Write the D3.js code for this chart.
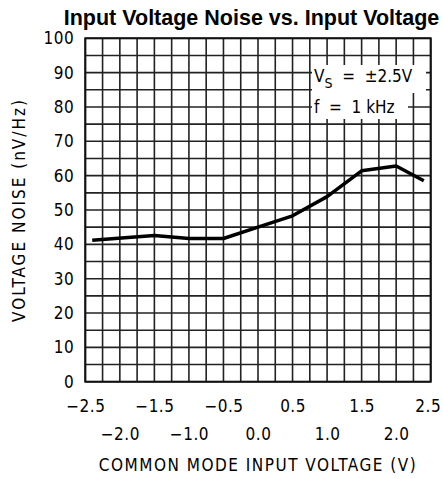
<!DOCTYPE html>
<html>
<head>
<meta charset="utf-8">
<script src="https://cdn.jsdelivr.net/npm/d3@7.9.0/dist/d3.min.js"></script>
<style>
  body { margin: 0; background: #fff; }
  text { fill: #000; }
  .lbl { font-family: 'Liberation Sans Narrow', 'DejaVu Sans Condensed', sans-serif; }
</style>
</head>
<body>
<div id="chart"></div>
<script>
const cmVoltage = [-2.4, -1.5, -1.0, -0.5, 0.0, 0.5, 1.0, 1.5, 2.0, 2.4];
const noise = [41.2, 42.6, 41.7, 41.7, 45.0, 48.3, 53.9, 61.4, 62.8, 58.5];
const xTicksTop = [-2.5, -1.5, -0.5, 0.5, 1.5, 2.5];
const xTicksBottom = [-2.0, -1.0, 0.0, 1.0, 2.0];
const yTicks = [0, 10, 20, 30, 40, 50, 60, 70, 80, 90, 100];

const width = 443;
const height = 479;
const margin = { top: 38.3, right: 12.3, bottom: 97.3, left: 85.3 };
const nb = '\u00a0';

const svg = d3.select('#chart').append('svg')
  .attr('width', width)
  .attr('height', height);

const x = d3.scaleLinear().domain([-2.5, 2.5])
  .range([margin.left, width - margin.right]);
const y = d3.scaleLinear().domain([0, 100])
  .range([height - margin.bottom, margin.top]);

// grid, every 0.25 V and 5 nV
const grid = svg.append('g').attr('stroke', '#222').attr('stroke-width', 1.6);
grid.selectAll('line.v')
  .data(d3.range(-2.5, 2.5001, 0.25))
  .join('line')
  .attr('class', 'v')
  .attr('x1', d => x(d)).attr('x2', d => x(d))
  .attr('y1', y(0)).attr('y2', y(100));
grid.selectAll('line.h')
  .data(d3.range(0, 100.001, 5))
  .join('line')
  .attr('class', 'h')
  .attr('x1', x(-2.5)).attr('x2', x(2.5))
  .attr('y1', d => y(d)).attr('y2', d => y(d));

svg.append('rect')
  .attr('x', x(-2.5)).attr('y', y(100))
  .attr('width', x(2.5) - x(-2.5)).attr('height', y(0) - y(100))
  .attr('fill', 'none').attr('stroke', '#111').attr('stroke-width', 2);

// legend boxes
svg.append('rect').attr('x', 312).attr('y', 65).attr('width', 114).attr('height', 28).attr('fill', '#fff');
svg.append('rect').attr('x', 312).attr('y', 92).attr('width', 96).attr('height', 27).attr('fill', '#fff');

const leg = svg.append('g').attr('class', 'lbl').style('font-size', '17px');
const l1 = leg.append('text').attr('x', 314).attr('y', 82);
l1.append('tspan').text('V');
l1.append('tspan').attr('dy', 6).style('font-size', '14px').text('S');
l1.append('tspan').attr('dy', -6).text(`${nb}${nb}=${nb}${nb}\u00b12.5V`);
leg.append('text').attr('x', 314).attr('y', 113).text(`f${nb}${nb}=${nb}${nb}1${nb}kHz`);

// data line
const line = d3.line().x((d, i) => x(cmVoltage[i])).y(d => y(d));
svg.append('path')
  .datum(noise)
  .attr('d', line)
  .attr('fill', 'none')
  .attr('stroke', '#000')
  .attr('stroke-width', 3.5)
  .attr('stroke-linejoin', 'round');

// y axis labels
const yAxis = svg.append('g')
  .attr('transform', `translate(${margin.left}, 0)`)
  .call(d3.axisLeft(y).tickValues(yTicks).tickSize(0).tickPadding(11).tickFormat(d3.format('d')));

// x axis labels in two rows
const xAxisTop = svg.append('g')
  .attr('transform', `translate(0, ${y(0)})`)
  .call(d3.axisBottom(x).tickValues(xTicksTop).tickSize(0).tickPadding(18).tickFormat(d3.format('.1f')));
const xAxisBottom = svg.append('g')
  .attr('transform', `translate(0, ${y(0)})`)
  .call(d3.axisBottom(x).tickValues(xTicksBottom).tickSize(0).tickPadding(46).tickFormat(d3.format('.1f')));
[yAxis, xAxisTop, xAxisBottom].forEach(g => {
  g.select('.domain').remove();
  g.attr('font-family', null).attr('font-size', null);
  g.selectAll('text').attr('class', 'lbl').style('font-size', '17px').style('letter-spacing', '0.5px').attr('fill', '#000');
});
// keep the last label inside the picture
xAxisTop.selectAll('.tick').filter(d => d === 2.5).select('text').attr('dx', -3);

svg.append('text')
  .attr('class', 'lbl')
  .attr('x', (x(-2.5) + x(2.5)) / 2)
  .attr('y', 471)
  .attr('text-anchor', 'middle')
  .style('font-size', '17px')
  .style('letter-spacing', '1.5px')
  .text('COMMON MODE INPUT VOLTAGE (V)');

svg.append('text')
  .attr('class', 'lbl')
  .attr('transform', `translate(25, ${(y(0) + y(100)) / 2}) rotate(-90)`)
  .attr('text-anchor', 'middle')
  .style('font-size', '17px')
  .style('letter-spacing', '2px')
  .text('VOLTAGE NOISE (nV/Hz)');

svg.append('text')
  .attr('x', 251.5)
  .attr('y', 25)
  .attr('text-anchor', 'middle')
  .style('font-family', "'Liberation Sans', Arial, sans-serif")
  .style('font-size', '21.5px')
  .style('font-weight', 'bold')
  .text('Input Voltage Noise vs. Input Voltage');
</script>
</body>
</html>
